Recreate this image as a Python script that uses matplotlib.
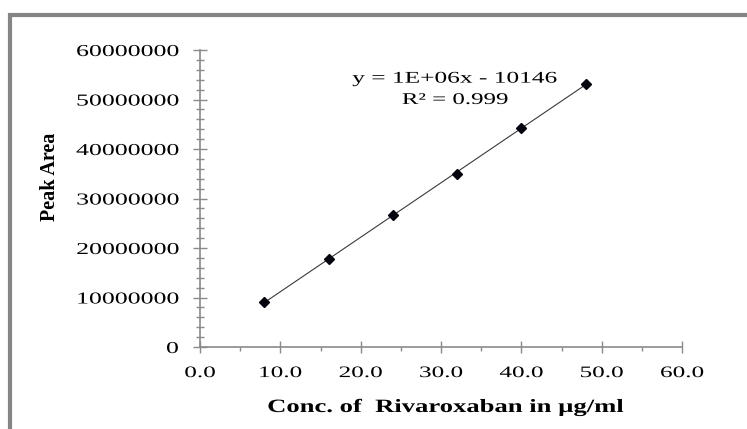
import matplotlib
matplotlib.use("Agg")
import matplotlib.pyplot as plt
import numpy as np
from matplotlib import patheffects
from matplotlib.patches import Rectangle
from matplotlib.ticker import MultipleLocator
from matplotlib.transforms import Affine2D

# calibration points
conc = [8.0, 16.0, 24.0, 32.0, 40.0, 48.0]
peak_area = [9.15e6, 17.7e6, 26.6e6, 35.0e6, 44.2e6, 53.2e6]

x_ticks = [0, 10, 20, 30, 40, 50, 60]
x_tick_labels = ["0.0", "10.0", "20.0", "30.0", "40.0", "50.0", "60.0"]
y_ticks = [0, 10e6, 20e6, 30e6, 40e6, 50e6, 60e6]
y_tick_labels = ["0", "10000000", "20000000", "30000000",
                 "40000000", "50000000", "60000000"]

equation = "y = 1E+06x - 10146"
r_squared = "R\u00b2 = 0.999"

GREY = "#8a8a8a"


class WideText(patheffects.AbstractPathEffect):
    """Stretch glyphs sideways - the source chart's lettering is wide."""

    def __init__(self, sx=1.5, anchor="center"):
        super().__init__()
        self.sx = sx
        self.anchor = anchor

    def draw_path(self, renderer, gc, tpath, affine, rgbFace=None):
        x0, _, x1, _ = tpath.get_extents().extents
        ref = {"left": x0, "center": (x0 + x1) / 2, "right": x1}[self.anchor]
        stretch = Affine2D().translate(-ref, 0).scale(self.sx, 1).translate(ref, 0)
        renderer.draw_path(gc, tpath, stretch + affine, rgbFace)


plt.rcParams["font.family"] = "Liberation Serif"

fig = plt.figure(figsize=(7.47, 4.29), dpi=100)
ax = fig.add_axes([200 / 747, 82 / 429, 482 / 747, 297 / 429])

# trendline + points
coef = np.polyfit(conc, peak_area, 1)
xs = np.array([conc[0], conc[-1]])
ax.plot(xs, np.polyval(coef, xs), color="#3a3a3a", lw=0.8, zorder=2)
ax.plot(conc, peak_area, "D", color="#05050f", markersize=5.5, zorder=3)

ax.set_xlim(0, 60)
ax.set_ylim(0, 60e6)
ax.set_xticks(x_ticks, labels=x_tick_labels)
ax.set_yticks(y_ticks, labels=y_tick_labels)
ax.xaxis.set_minor_locator(MultipleLocator(5))
ax.yaxis.set_minor_locator(MultipleLocator(2e6))

for side in ["top", "right"]:
    ax.spines[side].set_visible(False)
for side in ["left", "bottom"]:
    ax.spines[side].set_color(GREY)
    ax.spines[side].set_linewidth(1.2)

ax.tick_params(axis="y", which="major", direction="inout", length=10, width=1,
               color=GREY, labelsize=12, pad=10.5)
ax.tick_params(axis="y", which="minor", direction="inout", length=6, width=1, color=GREY)
ax.tick_params(axis="x", which="major", direction="inout", length=8, width=1,
               color=GREY, labelsize=11.5, pad=9)
ax.tick_params(axis="x", which="minor", direction="out", length=3, width=1, color=GREY)

for lbl in ax.get_yticklabels():
    lbl.set_path_effects([WideText(1.55, "right")])
for lbl in ax.get_xticklabels():
    lbl.set_path_effects([WideText(1.58, "center")])

ax.set_xlabel("Conc. of  Rivaroxaban in \u00b5g/ml", fontsize=13.5, fontweight="bold",
              path_effects=[WideText(1.42, "center")])
ax.xaxis.set_label_coords(0.51, -0.175)
ax.set_ylabel("Peak Area", fontsize=14.5, fontweight="bold")
ax.yaxis.set_label_coords(-0.29, 0.574)

ax.text(31.75, 53.4e6, equation, ha="center", va="baseline", fontsize=11.8,
        path_effects=[WideText(1.55, "center")])
ax.text(31.75, 49.1e6, r_squared, ha="center", va="baseline", fontsize=11.8,
        path_effects=[WideText(1.52, "center")])

# grey frame of the pasted chart (top and left edges visible)
fig.patches.append(Rectangle((9.5 / 747, -0.2), 1.2, 1.2 - 14.5 / 429,
                             transform=fig.transFigure, fill=False,
                             edgecolor="#858585", lw=3))

fig.savefig("out.png", dpi=100)
